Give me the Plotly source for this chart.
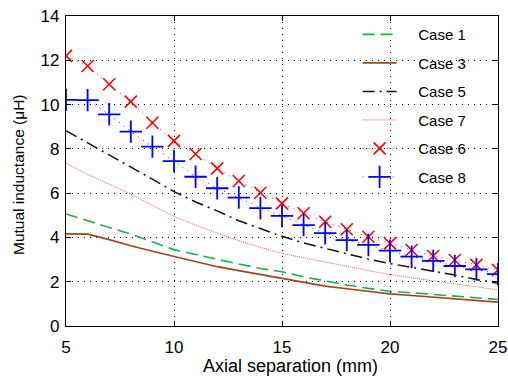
import plotly.graph_objects as go

x_mm = list(range(5, 26))

case1 = [5.06, 4.75, 4.45, 4.15, 3.80, 3.45, 3.23, 3.00, 2.80, 2.60, 2.45,
         2.22, 2.02, 1.85, 1.70, 1.57, 1.50, 1.42, 1.35, 1.28, 1.20]
case3 = [4.16, 4.15, 3.90, 3.62, 3.38, 3.15, 2.90, 2.68, 2.50, 2.32, 2.15,
         1.95, 1.80, 1.68, 1.55, 1.45, 1.38, 1.30, 1.22, 1.15, 1.08]
case5 = [8.82, 8.28, 7.74, 7.20, 6.63, 6.07, 5.60, 5.20, 4.75, 4.40, 4.05,
         3.75, 3.50, 3.25, 3.02, 2.82, 2.65, 2.48, 2.30, 2.10, 1.93]
case7 = [7.35, 6.85, 6.40, 5.95, 5.45, 4.95, 4.55, 4.20, 3.85, 3.55, 3.28,
         3.08, 2.90, 2.70, 2.50, 2.32, 2.18, 2.03, 1.90, 1.77, 1.63]
case6 = [12.20, 11.74, 10.92, 10.13, 9.18, 8.36, 7.77, 7.12, 6.55, 6.02, 5.54,
         5.09, 4.71, 4.37, 4.03, 3.73, 3.43, 3.16, 2.98, 2.76, 2.53]
case8 = [10.21, 10.20, 9.56, 8.78, 8.10, 7.45, 6.74, 6.22, 5.80, 5.32, 4.97,
         4.56, 4.19, 3.88, 3.66, 3.40, 3.13, 2.94, 2.71, 2.56, 2.34]

x_ticks = [5, 10, 15, 20, 25]
y_ticks = [0, 2, 4, 6, 8, 10, 12, 14]
names = ["Case 1", "Case 3", "Case 5", "Case 7", "Case 6", "Case 8"]
x_title = "Axial separation (mm)"
y_title = "Mutual inductance (μH)"

FONT = "Liberation Sans, Arial, sans-serif"
PAD = "\u00a0" * 4  # visual gap between legend symbol and label

fig = go.Figure()
fig.add_trace(go.Scatter(x=x_mm, y=case1, name=PAD + names[0], mode="lines", legendgroup="1",
                         line=dict(color="#18B04E", width=1.6, dash="12px,6px")))
fig.add_trace(go.Scatter(x=x_mm, y=case3, name=PAD + names[1], mode="lines", legendgroup="3",
                         line=dict(color="#A3441A", width=1.6)))
fig.add_trace(go.Scatter(x=x_mm, y=case5, name=PAD + names[2], mode="lines", legendgroup="5",
                         line=dict(color="#111111", width=1.5, dash="12px,5px,2px,5px")))
fig.add_trace(go.Scatter(x=x_mm, y=case7, name=PAD + names[3], mode="lines", legendgroup="7",
                         line=dict(color="#E06060", width=1, dash="1px,1px")))
fig.add_trace(go.Scatter(x=x_mm, y=case6, name=PAD + names[4], mode="lines+markers", legendgroup="6",
                         line=dict(color="#FF2020", width=1, dash="1px,5px"),
                         marker=dict(symbol="x-thin", size=12, color="#FF0000",
                                     line=dict(color="#FF0000", width=1.6))))
fig.add_trace(go.Scatter(x=x_mm, y=case8, name=PAD + names[5], mode="lines+markers", legendgroup="8",
                         line=dict(color="#2030FF", width=1, dash="1px,5px"),
                         marker=dict(symbol="cross-thin", size=16, color="#0000FF",
                                     line=dict(color="#0000FF", width=1.8))))

axis_common = dict(
    showline=True, linecolor="black", linewidth=1.3, mirror="allticks",
    ticks="inside", ticklen=5, tickcolor="black", tickwidth=1,
    showgrid=True, gridcolor="black", gridwidth=1, griddash="1px,5px",
    zeroline=False, automargin=False,
    tickfont=dict(family=FONT, size=17, color="black"),
)

fig.update_xaxes(range=[5, 25], tickvals=x_ticks, ticktext=[str(v) for v in x_ticks],
                 ticklabelstandoff=5, **axis_common)
fig.update_yaxes(range=[0, 14], tickvals=y_ticks, ticktext=[str(v) for v in y_ticks],
                 ticklabelstandoff=2, **axis_common)

fig.add_annotation(text=x_title, xref="paper", yref="paper", x=0.5, y=-0.129,
                   xanchor="center", yanchor="middle", xshift=8, showarrow=False,
                   font=dict(family=FONT, size=18, color="black"))
fig.add_annotation(text=y_title, xref="paper", yref="paper", x=0, y=0.487,
                   xanchor="center", yanchor="middle", xshift=-48, textangle=-90,
                   showarrow=False, font=dict(family=FONT, size=15.5, color="black"))

fig.update_layout(
    width=508, height=378,
    margin=dict(l=66, r=10, t=16, b=52),
    paper_bgcolor="white", plot_bgcolor="white",
    font=dict(family=FONT, color="black"),
    legend=dict(x=0.675, y=0.993, xanchor="left", yanchor="top",
                bgcolor="rgba(0,0,0,0)", borderwidth=0,
                font=dict(family=FONT, size=15, color="black"),
                itemwidth=34, tracegroupgap=6),
    showlegend=True,
)

fig.write_html("out.html", config={"displayModeBar": False},
               post_script="document.body.style.margin='0';document.body.style.overflow='hidden';")
